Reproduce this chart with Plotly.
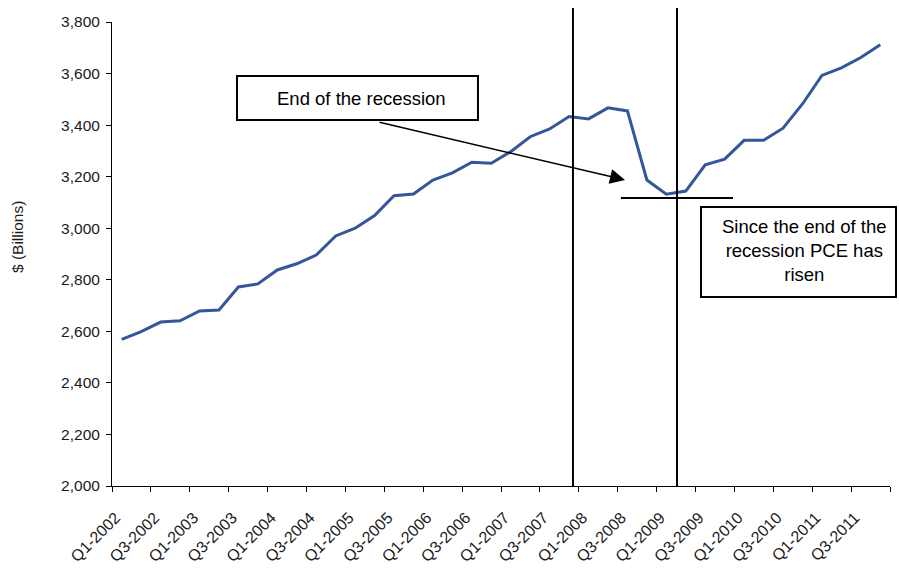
import plotly.graph_objects as go

# Quarterly personal consumption expenditures, $ billions
quarters = [f"Q{q}-{y}" for y in range(2002, 2012) for q in (1, 2, 3, 4)]
pce = [
    2569, 2599, 2636, 2641, 2679, 2683, 2772, 2784,
    2838, 2862, 2896, 2970, 3000, 3049, 3126, 3133,
    3187, 3215, 3256, 3252, 3297, 3355, 3385, 3433,
    3424, 3467, 3455, 3187, 3132, 3144, 3246, 3268,
    3341, 3341, 3388, 3482, 3593, 3622, 3662, 3712,
]
tick_labels = quarters[::2]
recession_start = 23.2   # Dec 2007, in quarter-index units
recession_end = 28.55    # Jun 2009
trough_level = 3117

FONT = "Liberation Sans, Arial, sans-serif"
TICK_SIZE = 15.5
NOTE_SIZE = 18.5
idx = list(range(len(quarters)))

fig = go.Figure()
fig.add_trace(go.Scatter(
    x=idx, y=pce, mode="lines",
    line=dict(color="#34569A", width=3),
    hoverinfo="skip", showlegend=False,
))

# recession markers
for xv in (recession_start, recession_end):
    fig.add_shape(type="line", xref="x", yref="paper",
                  x0=xv, x1=xv, y0=0, y1=1.03,
                  line=dict(color="black", width=2))

# level line at the trough
fig.add_shape(type="line", xref="paper", yref="y",
              x0=0.6542, x1=0.7982, y0=trough_level, y1=trough_level,
              line=dict(color="black", width=2))

# callout boxes
fig.add_shape(type="rect", xref="paper", yref="paper",
              x0=0.1607, x1=0.4704, y0=0.7888, y1=0.8836,
              line=dict(color="black", width=2), fillcolor="white")
fig.add_shape(type="rect", xref="paper", yref="paper",
              x0=0.7571, x1=1.0077, y0=0.4073, y1=0.6013,
              line=dict(color="black", width=2), fillcolor="white")

fig.add_annotation(xref="paper", yref="paper", x=0.3213, y=0.8362,
                   xanchor="center", yanchor="middle",
                   text="End of the recession", showarrow=False,
                   font=dict(family=FONT, size=NOTE_SIZE, color="black"))
fig.add_annotation(xref="paper", yref="paper", x=0.8895, y=0.5065,
                   xanchor="center", yanchor="middle",
                   text="Since the end of the<br>recession PCE has<br>risen",
                   showarrow=False, align="center",
                   font=dict(family=FONT, size=NOTE_SIZE, color="black"))

# arrow from the first callout towards the trough
fig.add_annotation(xref="paper", yref="paper", x=0.6594, y=0.6595,
                   ax=-247, ay=-58, text="", showarrow=True,
                   arrowhead=2, arrowsize=2, arrowwidth=1.5,
                   arrowcolor="black", standoff=0)

# y-axis title
fig.add_annotation(xref="paper", yref="paper", x=-0.1221, y=0.5366,
                   xanchor="center", yanchor="middle",
                   text="$ (Billions)", textangle=-90, showarrow=False,
                   font=dict(family=FONT, size=TICK_SIZE, color="#1a1a1a"))

fig.update_layout(
    width=899, height=574,
    margin=dict(l=112, r=9, t=22, b=88),
    paper_bgcolor="white", plot_bgcolor="white",
    font=dict(family=FONT, size=TICK_SIZE, color="#1a1a1a"),
    xaxis=dict(
        range=[-0.5, 39.5],
        tickmode="array", tickvals=idx[::2], ticktext=tick_labels,
        tickangle=-45, ticks="", ticklabelstandoff=15, ticklabelshift=-6,
        tickfont=dict(size=16),
        showgrid=False, zeroline=False,
        showline=True, linecolor="black", linewidth=1,
        minor=dict(tickmode="array",
                   tickvals=[i - 0.5 for i in range(0, 41, 2)],
                   ticks="outside", ticklen=5, tickcolor="black",
                   showgrid=False),
    ),
    yaxis=dict(
        range=[2000, 3800], dtick=200, tickformat=",",
        ticks="outside", ticklen=5, tickcolor="black",
        ticklabelstandoff=3,
        showgrid=False, zeroline=False,
        showline=True, linecolor="black", linewidth=1,
    ),
)

fig.write_html("out.html")
